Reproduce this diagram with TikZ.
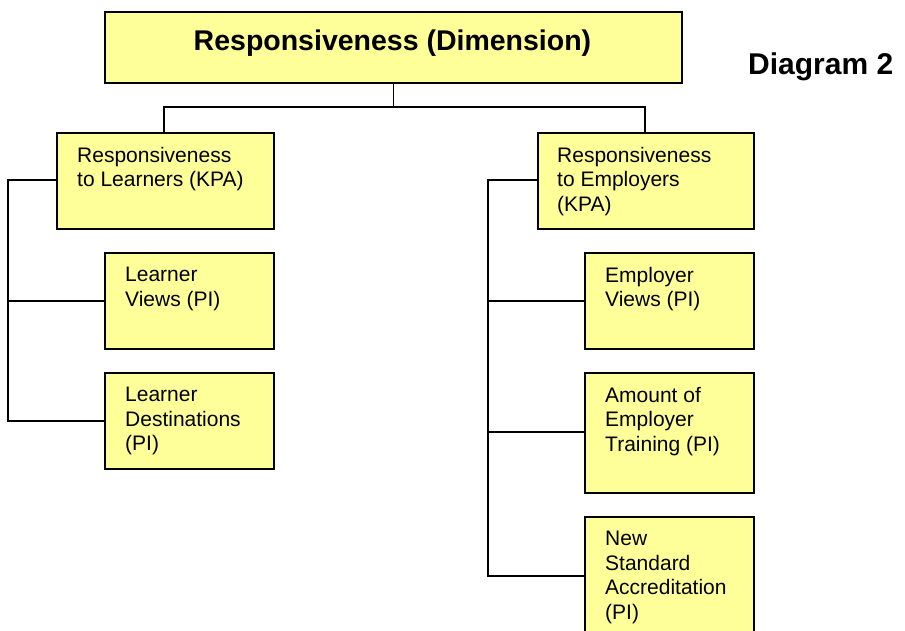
\documentclass[tikz,border=0pt]{standalone}
\usepackage{fontspec}
\setmainfont{Liberation Sans}
\begin{document}
\begin{tikzpicture}[x=1pt,y=-1pt,
  box/.style={draw=black, line width=1.5pt, fill=boxfill, rectangle, inner sep=0pt},
  boxtext/.style={anchor=north west, align=left, inner sep=0pt,
    font=\fontsize{21}{24.5}\selectfont},
  link/.style={line width=1.5pt, line cap=rect}]
\definecolor{boxfill}{HTML}{FFFF99}
\useasboundingbox (0,0) rectangle (905,630);
\clip (0,0) rectangle (905,630);

% dimension box
\node[box, minimum width=577pt, minimum height=71pt, anchor=north west] (dim) at (104,11) {};
\node[anchor=base, inner sep=0pt, font=\fontsize{28.5}{34}\selectfont\bfseries] (dimt) at (392.5,50) {Responsiveness (Dimension)};
\node[anchor=base west, inner sep=0pt, font=\fontsize{30}{36}\selectfont\bfseries] (tag) at (748,74.5) {Diagram 2};

% key performance areas
\node[box, minimum width=217pt, minimum height=96pt, anchor=north west] (kpaL) at (56,132) {};
\node[boxtext] (kpaLt) at (77,147) {Responsiveness\\to Learners (KPA)};
\node[box, minimum width=216pt, minimum height=96pt, anchor=north west] (kpaR) at (537,132) {};
\node[boxtext] (kpaRt) at (557,147) {Responsiveness\\to Employers\\(KPA)};

% performance indicators, learners
\node[box, minimum width=169pt, minimum height=96pt, anchor=north west] (lv) at (104,252) {};
\node[boxtext] (lvt) at (125,267) {Learner\\Views (PI)};
\node[box, minimum width=169pt, minimum height=96pt, anchor=north west] (ld) at (104,372) {};
\node[boxtext] (ldt) at (125,387) {Learner\\Destinations\\(PI)};

% performance indicators, employers
\node[box, minimum width=169pt, minimum height=96pt, anchor=north west] (ev) at (584,252) {};
\node[boxtext] (evt) at (605,267) {Employer\\Views (PI)};
\node[box, minimum width=169pt, minimum height=120pt, anchor=north west] (et) at (584,372) {};
\node[boxtext] (ett) at (605,387) {Amount of\\Employer\\Training (PI)};
\node[box, minimum width=169pt, minimum height=130pt, anchor=north west] (ns) at (584,516) {};
\node[boxtext] (nst) at (605,531) {New\\Standard\\Accreditation\\(PI)};

% bus points
\coordinate (busL) at (164,107);
\coordinate (busR) at (645,107);
\coordinate (barL) at (8,180);
\coordinate (barR) at (488,180);

% connectors
\draw[link] (dim.south) -- (dim.south |- busL);
\draw[link] (busL) -- (busR);
\draw[link] (busL) -- (busL |- kpaL.north);
\draw[link] (busR) -- (busR |- kpaR.north);

\draw[link] (kpaL.west |- barL) -- (barL) -- (barL |- ld.west);
\draw[link] (barL |- lv.west) -- (lv.west);
\draw[link] (barL |- ld.west) -- (ld.west);

\draw[link] (kpaR.west |- barR) -- (barR) -- (488,576);
\draw[link] (barR |- ev.west) -- (ev.west);
\draw[link] (488,432) -- (et.west |- 0,432);
\draw[link] (488,576) -- (ns.west |- 0,576);
\end{tikzpicture}
\end{document}
